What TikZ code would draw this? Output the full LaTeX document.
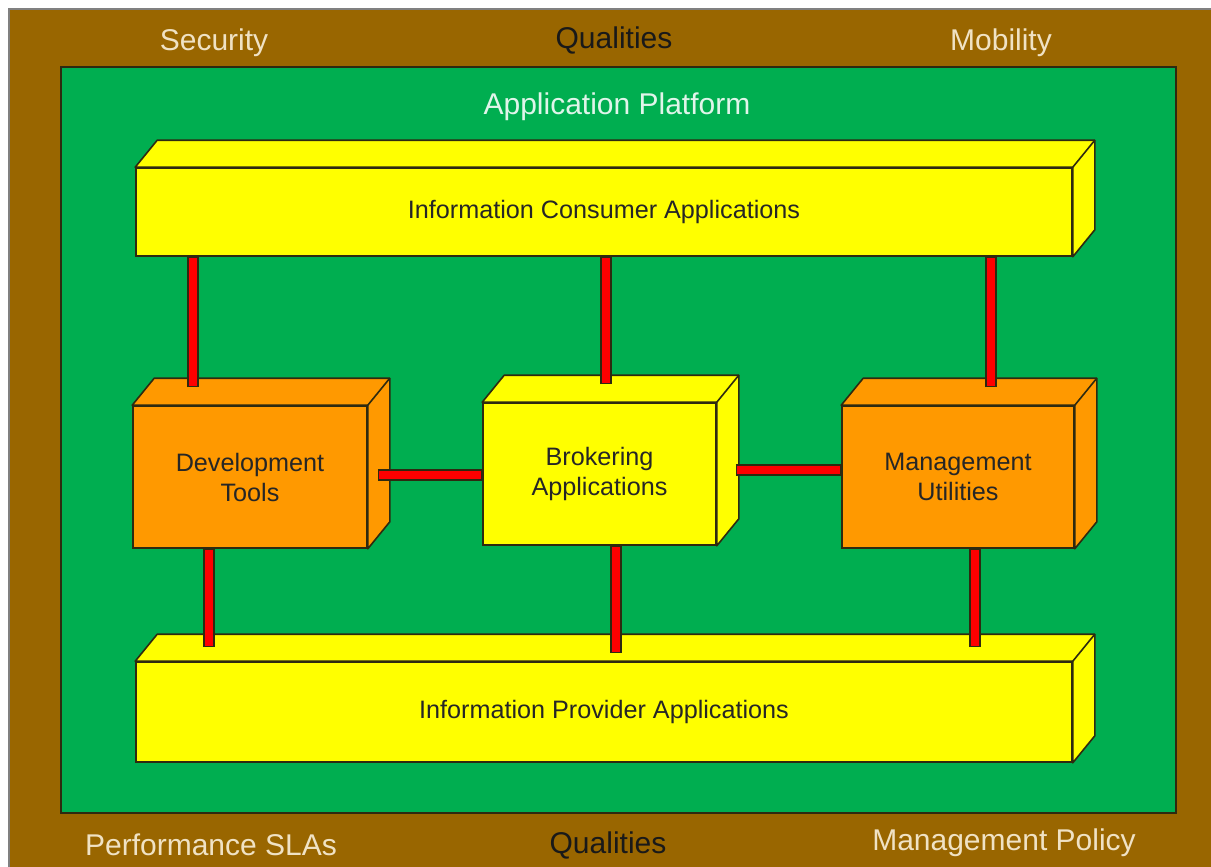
\documentclass[tikz,border=0pt]{standalone}
\usepackage{fontspec}
\setmainfont{Liberation Sans}
\usepackage{tikz}
\definecolor{frame}{HTML}{996600}
\definecolor{platform}{HTML}{00AE50}
\definecolor{appyellow}{HTML}{FFFF00}
\definecolor{toolorange}{HTML}{FF9900}
\definecolor{wire}{HTML}{FF0000}
\definecolor{edge}{HTML}{2E2A10}
\definecolor{cream}{HTML}{F0E2C4}

% top and right faces of a 3d block, drawn from the node's front face
\newcommand\depthfaces[2]{%
  \filldraw[fill=#2, draw=edge, line width=0.8pt, line join=round]
    (#1.north west) -- ([shift={(22,-27)}]#1.north west)
    -- ([shift={(22,-27)}]#1.north east) -- ([shift={(22,-27)}]#1.south east)
    -- (#1.south east) -- (#1.north east) -- cycle;
  \draw[edge, line width=0.8pt] (#1.north east) -- ([shift={(22,-27)}]#1.north east);
}

\begin{document}
\begin{tikzpicture}[x=0.5pt, y=-0.5pt,
  block/.style={draw=edge, line width=0.8pt, inner sep=0pt, align=center,
    font=\fontsize{12.6}{15}\selectfont, text=black!85},
  link/.style={draw=wire, line width=4.4pt, shorten <=0.6pt, shorten >=0.6pt,
    preaction={draw=edge, line width=5.6pt, shorten <=0pt, shorten >=0pt}},
  outer/.style={font=\fontsize{15}{18}\selectfont, text=cream}]
  \useasboundingbox (0,0) rectangle (1211,867);
  \clip (0,0) rectangle (1211,867);

  % outer band and platform
  \filldraw[fill=frame, draw=gray, line width=1pt] (9,9) rectangle (1230,890);
  \filldraw[fill=platform, draw=edge, line width=1pt] (61,67) rectangle (1176,813);

  % qualities around the platform
  \node[outer] (security) at (214,43) {Security};
  \node[outer, text=black!90] (qualtop) at (614,40) {Qualities};
  \node[outer] (mobility) at (1001,43) {Mobility};
  \node[outer] (perf) at (211,845) {Performance SLAs};
  \node[outer, text=black!90] (qualbot) at (608,845) {Qualities};
  \node[outer] (policy) at (1004,843) {Management Policy};
  \node[outer, text=white!88!platform] (platform) at (617,107) {Application Platform};

  % blocks
  \node[block, fill=appyellow, minimum width=468pt, minimum height=44pt] (consumer) at (604,212) {Information Consumer Applications};
  \depthfaces{consumer}{appyellow}
  \node[block, fill=toolorange, minimum width=117pt, minimum height=71pt] (devtools) at (250,477) {Development\\Tools};
  \depthfaces{devtools}{toolorange}
  \node[block, fill=appyellow, minimum width=116.5pt, minimum height=71pt] (broker) at (599.5,474) {Brokering\\Applications};
  \depthfaces{broker}{appyellow}
  \node[block, fill=toolorange, minimum width=116pt, minimum height=71pt] (mgmt) at (958,477) {Management\\Utilities};
  \depthfaces{mgmt}{toolorange}
  \node[block, fill=appyellow, minimum width=468pt, minimum height=50pt] (provider) at (604,712) {Information Provider Applications};
  \depthfaces{provider}{appyellow}

  % connectors
  \coordinate (ptop) at ([yshift=7pt]provider.north);
  \coordinate (pmid) at ([yshift=4pt]provider.north);
  \draw[link] ([xshift=-28.5pt, yshift=9pt]devtools.north) coordinate (c1) -- (c1 |- consumer.south);
  \draw[link] ([xshift=3.25pt, yshift=9pt]broker.north) coordinate (c2) -- (c2 |- consumer.south);
  \draw[link] ([xshift=16.5pt, yshift=9pt]mgmt.north) coordinate (c3) -- (c3 |- consumer.south);
  \draw[link] ([xshift=-20.5pt]devtools.south) coordinate (c4) -- (c4 |- ptop);
  \draw[link] ([xshift=8.25pt]broker.south) coordinate (c5) -- (c5 |- pmid);
  \draw[link] ([xshift=8.5pt]mgmt.south) coordinate (c6) -- (c6 |- ptop);
  \draw[link] ([xshift=5pt, yshift=1pt]devtools.east) coordinate (c7) -- (c7 -| broker.west);
  \draw[link] ([xshift=9.5pt, yshift=2pt]broker.east) coordinate (c8) -- (c8 -| mgmt.west);
\end{tikzpicture}
\end{document}
